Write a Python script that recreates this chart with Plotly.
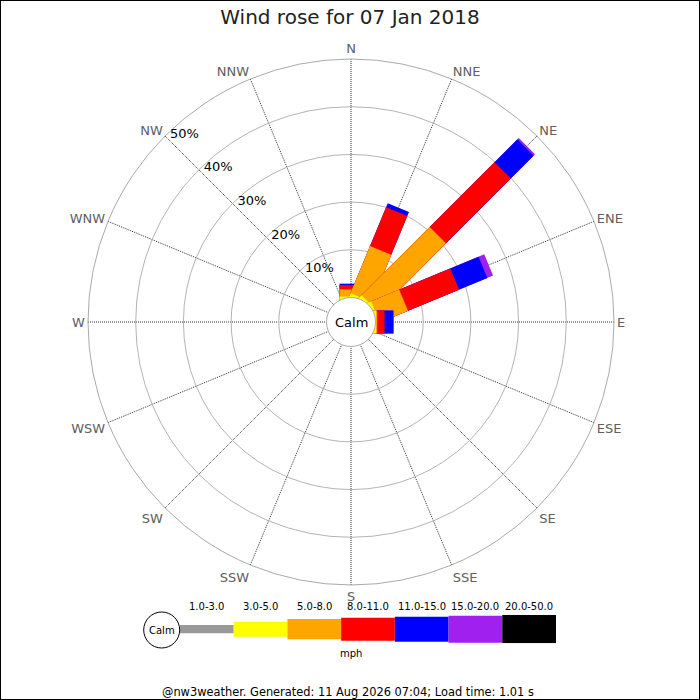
import math

import plotly.graph_objects as go

TITLE = "Wind rose for 07 Jan 2018"
FOOTER = "@nw3weather. Generated: 11 Aug 2026 07:04; Load time: 1.01 s"

DIRECTIONS = ["N", "NNE", "NE", "ENE", "E", "ESE", "SE", "SSE",
              "S", "SSW", "SW", "WSW", "W", "WNW", "NW", "NNW"]
BEARINGS = [i * 22.5 for i in range(16)]

SPEED_BINS = ["1.0-3.0", "3.0-5.0", "5.0-8.0", "8.0-11.0",
              "11.0-15.0", "15.0-20.0", "20.0-50.0"]
BIN_COLOURS = ["#999999", "#ffff00", "#ffa500", "#ff0000",
               "#0000ff", "#a020f0", "#000000"]

# % of the day per direction (N .. NNW) for each speed bin (mph)
FREQ_1_3 = [0, 0, 0, 0, 0, 0, 0, 0, 0, 0, 0, 0, 0, 0, 0, 0]
FREQ_3_5 = [0.2, 0.4, 0.4, 0.4, 0.1, 0, 0, 0, 0, 0, 0, 0, 0, 0, 0, 0]
FREQ_5_8 = [1.5, 10.7, 20.2, 6.4, 0.25, 0, 0, 0, 0, 0, 0, 0, 0, 0, 0, 0]
FREQ_8_11 = [0.9, 8.8, 19.2, 11.6, 1.55, 0, 0, 0, 0, 0, 0, 0, 0, 0, 0, 0]
FREQ_11_15 = [0.3, 0.9, 6.8, 6.4, 1.8, 0, 0, 0, 0, 0, 0, 0, 0, 0, 0, 0]
FREQ_15_20 = [0, 0, 0.4, 1.3, 0.15, 0, 0, 0, 0, 0, 0, 0, 0, 0, 0, 0]
FREQ_20_50 = [0, 0, 0, 0, 0, 0, 0, 0, 0, 0, 0, 0, 0, 0, 0, 0]
FREQS = [FREQ_1_3, FREQ_3_5, FREQ_5_8, FREQ_8_11, FREQ_11_15, FREQ_15_20, FREQ_20_50]

RADIAL_TICKS = [10, 20, 30, 40, 50]

# geometry of the rose (pixels, 700x700 page)
W = 700
CX, CY = 351, 322
R_PX = 263
CALM_PX = 24.5
HALF_W = 11.5
R_MAX = 50
R_MIN = -CALM_PX / (R_PX - CALM_PX) * R_MAX
SCALE = R_PX / (R_MAX - R_MIN)


def to_px(r):
    return (r - R_MIN) * SCALE


def to_r(px):
    return px / SCALE + R_MIN


def bar_outline(bearing, value):
    # straight-sided bar from the centre out to `value`
    end = to_px(value)
    pts = [(0, -HALF_W), (end, -HALF_W), (end, HALF_W), (0, HALF_W), (0, -HALF_W)]
    rs, ts = [], []
    for a, off in pts:
        rs.append(to_r(math.hypot(a, off)))
        ts.append(bearing + math.degrees(math.atan2(off, a)))
    return rs, ts


fig = go.Figure()

for d, bearing in enumerate(BEARINGS):
    cum = [sum(FREQS[k][d] for k in range(b + 1)) for b in range(len(FREQS))]
    for b in reversed(range(len(FREQS))):
        if FREQS[b][d] <= 0:
            continue
        rs, ts = bar_outline(bearing, cum[b])
        fig.add_trace(go.Scatterpolar(
            r=rs, theta=ts, mode="lines", fill="toself",
            fillcolor=BIN_COLOURS[b], line=dict(width=0, color=BIN_COLOURS[b]),
            name=f"{DIRECTIONS[d]} {SPEED_BINS[b]}", hoverinfo="name",
            showlegend=False,
        ))

# speed key drawn as a bar strip
LEGEND_HEIGHTS = [8.3, 15, 20.3, 23, 25, 27, 28.3]
fig.add_trace(go.Bar(
    x=SPEED_BINS, y=LEGEND_HEIGHTS, base=[-h / 2 for h in LEGEND_HEIGHTS],
    width=1, marker=dict(color=BIN_COLOURS, line=dict(width=0)),
    xaxis="x", yaxis="y", showlegend=False, hoverinfo="x",
))


def note(text, x, y, size, xref="paper"):
    return dict(text=text, x=x, y=y, xref=xref, yref="paper", showarrow=False,
                xanchor="center", yanchor="middle",
                font=dict(size=size, color="black"))


annotations = [
    note("Calm", CX / W, 1 - CY / W, 13),
    note("Calm", 161.7 / W, 1 - 630 / W, 10),
    note("mph", 350.7 / W, 1 - 653.5 / W, 10),
    note(FOOTER, 348 / W, 1 - 692 / W, 11.4),
]
for lab in SPEED_BINS:
    annotations.append(note(lab, lab, 1 - 606.5 / W, 10, xref="x"))

shapes = [
    dict(type="circle", xref="paper", yref="paper", layer="above",
         x0=(CX - CALM_PX) / W, x1=(CX + CALM_PX) / W,
         y0=1 - (CY + CALM_PX) / W, y1=1 - (CY - CALM_PX) / W,
         fillcolor="white", line=dict(color="#aaaaaa", width=1)),
    dict(type="circle", xref="paper", yref="paper", layer="above",
         x0=(161.7 - 18) / W, x1=(161.7 + 18) / W,
         y0=1 - (630 + 18) / W, y1=1 - (630 - 18) / W,
         fillcolor="white", line=dict(color="black", width=1)),
    dict(type="rect", xref="paper", yref="paper", x0=0, x1=1, y0=0, y1=1,
         line=dict(color="black", width=2)),
]

fig.update_layout(
    width=700, height=700,
    margin=dict(l=0, r=0, t=0, b=0),
    paper_bgcolor="white", plot_bgcolor="white",
    font=dict(family="DejaVu Sans", color="black"),
    title=dict(text=TITLE, x=0.5, xanchor="center", y=1 - 17 / W, yanchor="middle",
               font=dict(size=20, color="#222222")),
    polar=dict(
        domain=dict(x=[(CX - R_PX) / W, (CX + R_PX) / W],
                    y=[1 - (CY + R_PX) / W, 1 - (CY - R_PX) / W]),
        bgcolor="white",
        radialaxis=dict(
            range=[R_MIN, R_MAX], tickmode="array", tickvals=RADIAL_TICKS,
            ticktext=[f"{t}%" for t in RADIAL_TICKS], angle=135, tickangle=135,
            showline=False, ticks="", gridcolor="#b4b4b4", gridwidth=1,
            tickfont=dict(size=13, color="black"),
        ),
        angularaxis=dict(
            direction="clockwise", rotation=90, tickmode="array",
            tickvals=BEARINGS, ticktext=DIRECTIONS, ticks="",
            showline=True, linecolor="#aaaaaa", linewidth=1,
            gridcolor="#333333", griddash="1px,1px", gridwidth=1,
            tickfont=dict(size=13, color="#606060"),
        ),
    ),
    xaxis=dict(domain=[180 / W, 556 / W], range=[-0.5, 6.5], visible=False,
               fixedrange=True, type="category"),
    yaxis=dict(domain=[1 - 643.3 / W, 1 - 615 / W], range=[-14.15, 14.15],
               visible=False, fixedrange=True),
    annotations=annotations,
    shapes=shapes,
    showlegend=False,
)

fig.write_html("out.html", config={"displayModeBar": False},
               post_script="document.body.style.margin='0';")
